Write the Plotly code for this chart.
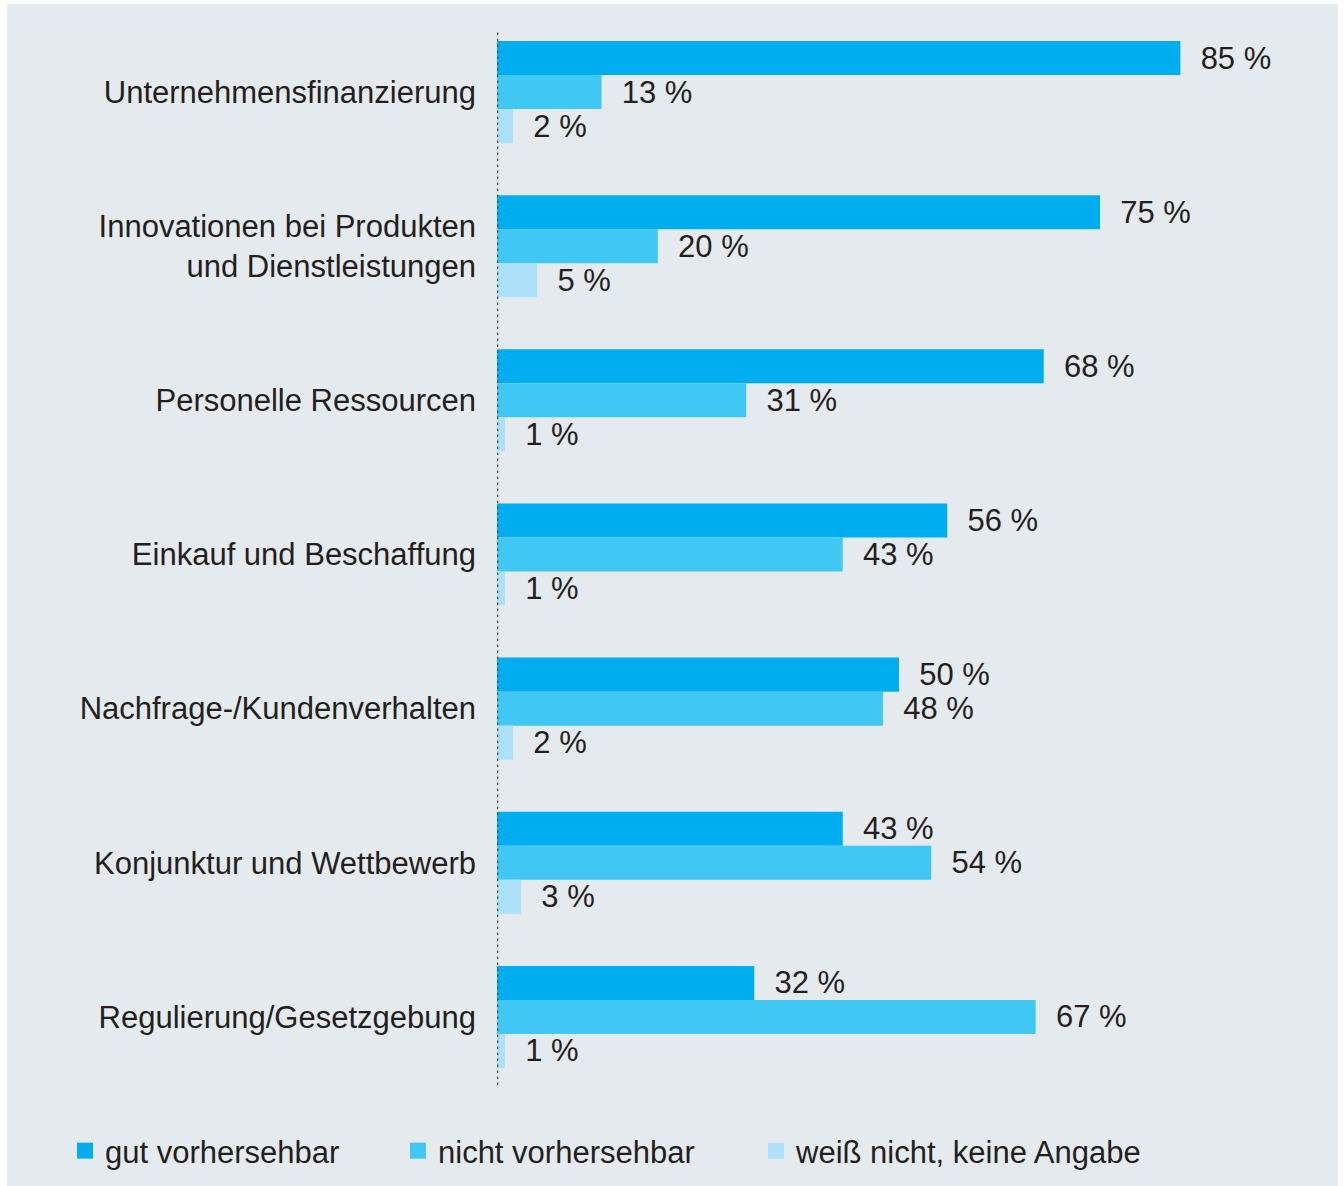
import plotly.graph_objects as go

categories = [
    "Unternehmensfinanzierung",
    "Innovationen bei Produkten<br>und Dienstleistungen",
    "Personelle Ressourcen",
    "Einkauf und Beschaffung",
    "Nachfrage-/Kundenverhalten",
    "Konjunktur und Wettbewerb",
    "Regulierung/Gesetzgebung",
]
series_names = ["gut vorhersehbar", "nicht vorhersehbar", "weiß nicht, keine Angabe"]
gut = [85, 75, 68, 56, 50, 43, 32]
nicht = [13, 20, 31, 43, 48, 54, 67]
weiss = [2, 5, 1, 1, 2, 3, 1]
colors = ["#00aeef", "#41c7f4", "#ade1f9"]

FONT = "Liberation Sans, Arial, sans-serif"
TXT = "#231f20"
FS = 31

# plot area: x 497..1338, y 15..1094
L, R, T, B = 497, 6, 15, 92
W, H = 1344, 1186
pw = W - L - R
ph = H - T - B


def px_x(px):
    return (px - L) / pw


def px_y(py):
    return (T + ph - py) / ph


legend_ids = ["legend", "legend2", "legend3"]
legend_px = [65, 398, 756]

fig = go.Figure()
for name, vals, col, lid in zip(series_names, [gut, nicht, weiss], colors, legend_ids):
    fig.add_trace(go.Bar(
        y=categories, x=vals, orientation="h", name=name,
        marker=dict(color=col, line=dict(width=0)),
        text=[f"\u00a0\u00a0{v} %" for v in vals],
        textposition="outside", cliponaxis=False, constraintext="none",
        textfont=dict(family=FONT, size=FS, color=TXT),
        showlegend=False, hoverinfo="skip",
    ))
    fig.add_trace(go.Scatter(
        x=[None], y=[None], mode="markers", name=name,
        marker=dict(symbol="square", size=16, color=col),
        showlegend=True, legend=lid,
    ))

fig.add_shape(type="rect", xref="paper", yref="paper",
              x0=px_x(7), x1=px_x(1338), y0=px_y(1186), y1=px_y(4),
              fillcolor="#e5eaee", line=dict(width=0), layer="below")
fig.add_shape(type="line", xref="x", yref="paper", x0=0, x1=0,
              y0=px_y(1085), y1=px_y(30),
              line=dict(color="#3e4d58", width=2.5, dash="2.5px,3.5px"), layer="above")

leg_common = dict(orientation="h", xanchor="left", y=px_y(1151), yanchor="middle",
                  bgcolor="rgba(0,0,0,0)",
                  font=dict(family=FONT, size=FS, color=TXT))

fig.update_layout(
    width=W, height=H,
    margin=dict(l=L, r=R, t=T, b=B),
    paper_bgcolor="white", plot_bgcolor="rgba(0,0,0,0)",
    barmode="group", bargap=0.338, bargroupgap=0,
    font=dict(family=FONT, size=FS, color=TXT),
    xaxis=dict(range=[0, pw / 8.04], visible=False, fixedrange=True),
    yaxis=dict(autorange="reversed", showgrid=False, zeroline=False,
               showline=False, ticks="", ticklabelstandoff=20, fixedrange=True,
               tickfont=dict(family=FONT, size=FS, color=TXT)),
    legend=dict(x=px_x(legend_px[0]), **leg_common),
    legend2=dict(x=px_x(legend_px[1]), **leg_common),
    legend3=dict(x=px_x(legend_px[2]), **leg_common),
    showlegend=True,
)

fig.write_html("out.html", config={"displayModeBar": False},
               post_script="document.body.style.margin='0';")
